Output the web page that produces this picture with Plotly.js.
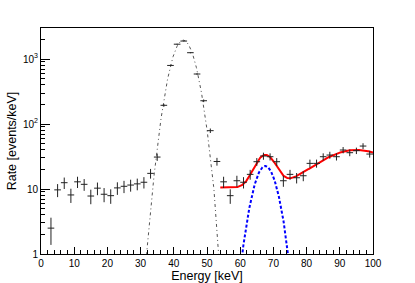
<!DOCTYPE html>
<html>
<head>
<meta charset="utf-8">
<script src="https://cdn.plot.ly/plotly-3.0.1.min.js"></script>
<style>html,body{margin:0;padding:0;background:#fff;}#chart{width:415px;height:283px;}</style>
</head>
<body>
<div id="chart"></div>
<script>
// Bin centres (keV), bin half-width = 1 keV
const energy = [3,5,7,9,11,13,15,17,19,21,23,25,27,29,31,33,35,37,39,41,43,45,47,49,51,53,55,57,59,61,63,65,67,69,71,73,75,77,79,81,83,85,87,89,91,93,95,97,99];
// Measured rate (events/keV)
const rate = [2.5,9.7,12.5,8.1,12.9,11.8,7.8,10.3,8.3,7.9,10.4,11.0,11.5,12.0,12.7,17.4,31,194,796,1690,1890,1250,588,228,79,26.5,12.9,7.9,13.4,12.7,16.8,26.3,32.2,31.4,26.3,13.4,16.8,14.9,16.0,24.8,24.8,31.4,33.3,31.4,39.8,36.2,38.9,45.8,34.5];
// Rate uncertainties
const rateErr = [1.12,2.2,2.5,2.0,2.54,2.43,1.97,2.27,2.04,1.99,2.28,2.35,2.4,2.45,2.52,2.95,3.94,9.85,19.9,29.1,30.7,25.0,17.1,10.7,6.3,3.64,2.54,1.99,2.59,2.52,2.9,3.63,4.01,3.96,3.63,2.59,2.9,2.73,2.83,3.52,3.52,3.96,4.08,3.96,4.46,4.25,4.41,4.79,4.15];
const binHalfWidth = 1;

// Fit parameters: [amplitude, mean, sigma]
const mainPeak = [1950, 42.85, 2.84];
const linePeak = [22.6, 67.55, 2.78];
// Background: [constant, bump amplitude, bump mean, bump sigma]
const background = [10.5, 29.5, 95, 9.7];
const fitRange = [54, 100];

const yTickVals = [1, 10, 100, 1000];
const yTickText = ['1', '10', '10<sup>2</sup>', '10<sup>3</sup>'];

function gauss(p, x) { return p[0] * Math.exp(-0.5 * Math.pow((x - p[1]) / p[2], 2)); }
function bkg(p, x) { return p[0] + p[1] * Math.exp(-0.5 * Math.pow((x - p[2]) / p[3], 2)); }

const fullX = [], peakY = [], lineX = [], lineY = [], totY = [];
for (let i = 0; i <= 1000; i++) { const x = i * 0.1; fullX.push(x); peakY.push(gauss(mainPeak, x)); }
for (let i = 0; i <= 460; i++) {
  const x = fitRange[0] + i * 0.1;
  if (x > fitRange[1] + 1e-9) break;
  lineX.push(x); lineY.push(gauss(linePeak, x)); totY.push(gauss(linePeak, x) + bkg(background, x));
}

// minor log tick positions (2..9 per decade)
const minorY = [];
for (let d = 1; d <= 1000; d *= 10) for (let m = 2; m <= 9; m++) if (m * d <= 3000) minorY.push(m * d);

const traces = [
  { x: fullX, y: peakY, type: 'scatter', mode: 'lines', line: { color: '#555', width: 1, dash: '3px,3px,1px,3px' }, hoverinfo: 'skip', showlegend: false },
  { x: lineX, y: lineY, type: 'scatter', mode: 'lines', line: { color: '#0000ff', width: 2, dash: '3px,2px' }, hoverinfo: 'skip', showlegend: false },
  { x: lineX, y: totY, type: 'scatter', mode: 'lines', line: { color: '#ff0000', width: 2 }, hoverinfo: 'skip', showlegend: false },
  { x: energy, y: rate, type: 'scatter', mode: 'markers', marker: { size: 1, color: 'rgba(0,0,0,0)' },
    error_y: { type: 'data', array: rateErr, visible: true, color: '#222', thickness: 1, width: 0 },
    error_x: { type: 'constant', value: binHalfWidth, visible: true, color: '#222', thickness: 1, width: 0 },
    showlegend: false },
  { x: [1], y: [1], yaxis: 'y2', type: 'scatter', mode: 'markers', marker: { size: 1, color: 'rgba(0,0,0,0)' }, showlegend: false, hoverinfo: 'skip' }
];

const font = { family: 'Liberation Sans, Arial, sans-serif', color: '#000' };
const layout = {
  width: 415, height: 283,
  margin: { l: 41, r: 42, t: 28, b: 29, pad: 0 },
  paper_bgcolor: '#fff', plot_bgcolor: '#fff',
  font: Object.assign({ size: 10 }, font),
  showlegend: false,
  xaxis: {
    range: [0, 100], dtick: 10, tick0: 0, ticks: 'inside', ticklen: 7, tickcolor: '#000', tickwidth: 1,
    showline: true, mirror: true, linecolor: '#000', linewidth: 1, showgrid: false, zeroline: false,
    tickfont: Object.assign({ size: 10 }, font),
    minor: { dtick: 2, ticks: 'inside', ticklen: 4, tickcolor: '#000', showgrid: false },
    title: { text: 'Energy [keV]', font: Object.assign({ size: 12.5 }, font), standoff: 1 }
  },
  yaxis: {
    type: 'log', range: [0, Math.log10(3000)], tickvals: yTickVals, ticktext: yTickText,
    ticks: 'inside', ticklen: 9, tickcolor: '#000', showline: true, mirror: true, linecolor: '#000', linewidth: 1,
    showgrid: false, zeroline: false, tickfont: Object.assign({ size: 10 }, font),
    title: { text: 'Rate [events/keV]', font: Object.assign({ size: 12.5 }, font), standoff: 3 }
  },
  yaxis2: {
    type: 'log', range: [0, Math.log10(3000)], overlaying: 'y', side: 'left', tickvals: minorY,
    ticks: 'inside', ticklen: 4, tickcolor: '#000', showticklabels: false, showline: false, showgrid: false, zeroline: false
  }
};

Plotly.newPlot('chart', traces, layout, { staticPlot: true, displayModeBar: false });
</script>
</body>
</html>
